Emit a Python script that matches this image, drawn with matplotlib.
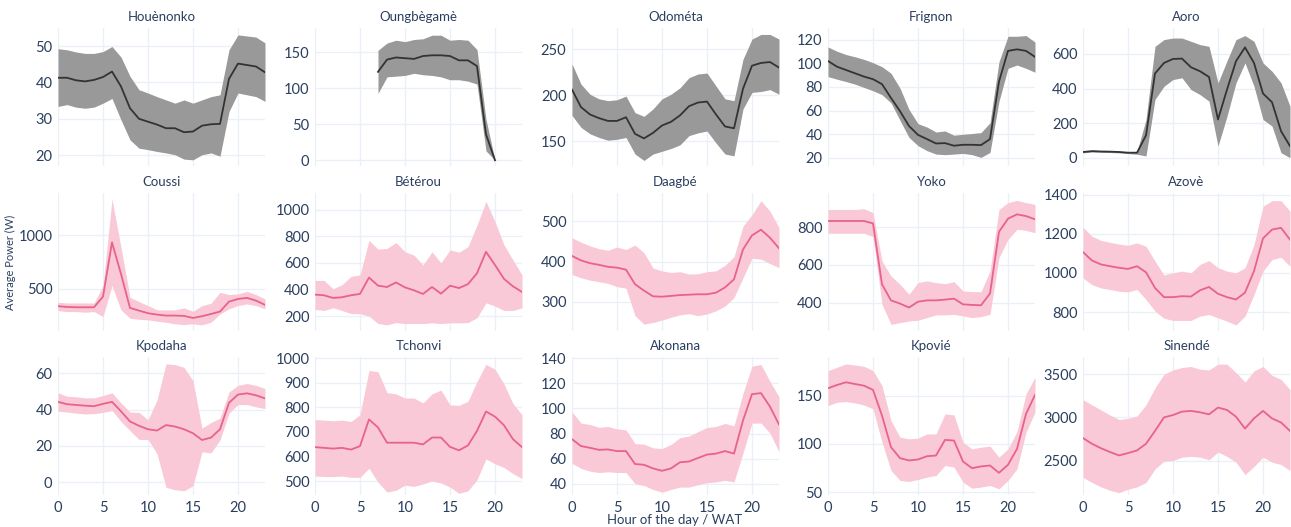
import numpy as np
import matplotlib.pyplot as plt
from matplotlib.ticker import MultipleLocator

nan = np.nan
hours = np.arange(24)

# --- values (mean, upper band, lower band) ---
houenonko_mean = [41.3, 41.3, 40.6, 40.3, 40.7, 41.5, 43.0, 38.9, 32.9, 30.0, 29.2, 28.4,
                  27.4, 27.4, 26.3, 26.5, 28.1, 28.5, 28.6, 41.0, 45.2, 44.8, 44.4, 42.8]
houenonko_hi = [49.3, 49.0, 48.4, 48.0, 48.0, 48.5, 49.9, 47.0, 41.7, 38.0, 37.1, 36.1,
                35.2, 34.3, 35.2, 34.3, 35.2, 36.1, 36.6, 49.0, 53.1, 52.8, 52.5, 50.9]
houenonko_lo = [33.4, 33.9, 33.2, 32.9, 33.2, 34.3, 35.6, 29.7, 24.2, 21.9, 21.5, 21.0,
                20.6, 20.1, 18.9, 18.7, 20.1, 20.6, 19.7, 32.0, 37.1, 36.6, 36.1, 34.8]

oungbegame_mean = [nan] * 7 + [123, 140, 143, 142, 141, 145, 146, 146, 145, 139, 139,
                               131, 36, 0] + [nan] * 3
oungbegame_hi = [nan] * 7 + [153, 163, 167, 165, 168, 169, 174, 174, 167, 168, 167,
                             154, 57, 0] + [nan] * 3
oungbegame_lo = [nan] * 7 + [93, 116, 117, 118, 121, 119, 118, 116, 112, 112, 110,
                             106, 13, 0] + [nan] * 3

odometa_mean = [206, 187, 179, 175, 172, 172, 176, 158, 153, 159, 167, 171,
                178, 188, 192, 193, 179, 166, 164, 207, 232, 235, 236, 230]
odometa_hi = [234, 212, 201, 196, 194, 195, 199, 181, 177, 185, 196, 201,
              208, 219, 223, 224, 210, 196, 194, 239, 261, 266, 266, 261]
odometa_lo = [178, 165, 158, 154, 151, 152, 154, 136, 129, 136, 139, 142,
              146, 156, 159, 161, 148, 136, 134, 185, 203, 204, 206, 201]

frignon_mean = [102, 97.2, 94.4, 91.6, 88.8, 86.6, 82.4, 70.7, 59.5, 46.9, 39.4, 35.8,
                32.1, 32.4, 30.2, 31.0, 31.0, 30.7, 35.8, 84.6, 110.6, 111.9, 110.6, 105.5]
frignon_hi = [113.9, 110.3, 107.5, 105.6, 103.4, 100.6, 97.2, 91.6, 79.0, 60.9, 48.9, 46.0,
              41.8, 42.7, 39.1, 39.9, 40.5, 41.3, 49.7, 101.4, 123.0, 123.0, 123.6, 118.0]
frignon_lo = [88.8, 86.6, 84.6, 82.4, 79.6, 76.8, 73.5, 66.5, 51.7, 37.2, 30.2, 26.0,
              23.1, 22.6, 23.1, 23.7, 22.6, 20.3, 24.5, 67.9, 95.8, 98.6, 95.8, 92.5]

aoro_mean = [33, 38, 36, 35, 33, 29, 29, 129, 487, 548, 571, 573,
             523, 500, 467, 221, 394, 558, 638, 548, 371, 321, 154, 67]
aoro_hi = [38, 43, 41, 40, 38, 34, 34, 221, 644, 683, 692, 692,
           673, 654, 644, 433, 560, 683, 706, 673, 548, 500, 433, 298]
aoro_lo = [28, 33, 31, 30, 28, 24, 20, 10, 337, 413, 452, 462,
           394, 365, 327, 67, 240, 433, 548, 413, 221, 183, 29, 0]

coussi_mean = [340, 333, 330, 330, 330, 429, 932, 639, 324, 299, 275, 262,
               253, 253, 250, 231, 247, 268, 290, 383, 407, 417, 392, 352]
coussi_hi = [377, 370, 370, 370, 370, 531, 1333, 886, 423, 383, 346, 306,
             306, 306, 324, 293, 346, 367, 469, 448, 454, 478, 448, 407]
coussi_lo = [299, 290, 290, 284, 290, 244, 531, 306, 228, 219, 213, 201,
             191, 176, 170, 176, 167, 191, 268, 315, 346, 361, 346, 315]

beterou_mean = [363, 358, 338, 343, 358, 368, 491, 430, 420, 454, 417, 395,
                368, 420, 370, 430, 412, 442, 523, 684, 585, 481, 425, 383]
beterou_hi = [469, 469, 407, 437, 499, 511, 770, 704, 709, 753, 684, 659,
              585, 684, 600, 699, 681, 723, 884, 1062, 909, 736, 622, 511]
beterou_lo = [252, 244, 264, 244, 220, 220, 202, 146, 136, 153, 146, 146,
              146, 151, 146, 151, 151, 153, 190, 301, 277, 244, 244, 264]

daagbe_mean = [414, 403, 396, 392, 387, 385, 380, 344, 328, 314, 313, 315,
               317, 318, 319, 319, 323, 336, 356, 430, 465, 479, 459, 433]
daagbe_hi = [459, 448, 439, 432, 428, 436, 430, 441, 422, 384, 377, 373,
             375, 369, 370, 375, 377, 391, 412, 488, 516, 551, 525, 484]
daagbe_lo = [368, 360, 354, 350, 346, 338, 334, 266, 245, 249, 255, 262,
             268, 271, 266, 270, 278, 290, 311, 360, 408, 406, 395, 385]

yoko_mean = [832, 832, 832, 832, 832, 819, 497, 412, 395, 374, 405, 412,
             412, 416, 421, 391, 388, 386, 448, 775, 844, 867, 858, 841]
yoko_hi = [893, 893, 893, 893, 897, 876, 620, 541, 497, 444, 506, 515,
           506, 500, 511, 462, 458, 458, 567, 893, 929, 941, 929, 920]
yoko_lo = [767, 767, 767, 767, 767, 749, 391, 285, 294, 303, 307, 321,
           335, 335, 338, 330, 321, 326, 338, 638, 735, 788, 782, 770]

azove_mean = [1106, 1063, 1043, 1034, 1026, 1020, 1034, 1003, 923, 876, 876, 881,
              879, 911, 928, 893, 876, 864, 899, 1009, 1176, 1221, 1230, 1170]
azove_hi = [1233, 1187, 1166, 1156, 1147, 1141, 1153, 1136, 1060, 989, 1000, 1009,
            1000, 1043, 1063, 1026, 1009, 1000, 1026, 1145, 1340, 1369, 1369, 1315]
azove_lo = [974, 940, 923, 915, 906, 903, 915, 864, 805, 768, 757, 757,
            757, 779, 787, 770, 753, 734, 779, 889, 1009, 1068, 1080, 1034]

kpodaha_mean = [44.3, 43.0, 42.6, 42.2, 41.9, 43.2, 44.3, 39.1, 33.5, 31.1, 29.2, 28.5,
                31.5, 30.7, 29.2, 27.0, 23.3, 24.6, 29.2, 43.8, 48.3, 49.0, 47.9, 46.2]
kpodaha_hi = [49.3, 47.4, 47.1, 46.5, 46.5, 47.8, 49.3, 43.7, 38.7, 38.5, 34.4, 45.3,
              65.2, 64.8, 63.3, 55.9, 29.8, 32.9, 35.4, 49.7, 53.4, 54.4, 53.4, 51.6]
kpodaha_lo = [39.1, 38.7, 38.1, 37.6, 37.8, 38.5, 39.5, 33.5, 28.5, 23.6, 23.6, 15.8,
              -2.8, -4.1, -4.7, -1.9, 16.8, 16.2, 23.3, 38.1, 42.8, 42.8, 41.5, 40.6]

tchonvi_mean = [638, 635, 632, 635, 628, 642, 751, 718, 656, 656, 656, 656,
                649, 677, 677, 639, 625, 645, 704, 783, 762, 727, 670, 638]
tchonvi_hi = [750, 748, 745, 748, 742, 770, 950, 945, 860, 855, 838, 838,
              818, 855, 870, 810, 808, 825, 905, 975, 955, 895, 815, 770]
tchonvi_lo = [520, 518, 518, 520, 515, 515, 552, 495, 455, 462, 483, 478,
              488, 500, 492, 475, 450, 460, 505, 590, 570, 555, 530, 510]

akonana_mean = [75.5, 70.0, 68.6, 67.0, 67.3, 66.0, 66.0, 55.7, 55.1, 52.2, 50.3, 52.2,
                57.1, 57.7, 60.5, 63.2, 64.0, 66.0, 64.0, 90.4, 111.4, 112.2, 101.4, 87.2]
akonana_hi = [97.3, 88.3, 87.2, 85.0, 85.6, 83.7, 82.9, 72.0, 71.5, 68.6, 68.0, 71.3,
              76.7, 78.0, 81.5, 84.8, 85.6, 88.0, 86.2, 112.0, 133.7, 135.0, 121.5, 109.2]
akonana_lo = [56.3, 52.2, 50.0, 48.9, 49.5, 48.9, 48.9, 40.0, 38.6, 35.4, 33.2, 35.4,
              37.3, 37.3, 39.2, 40.8, 41.4, 42.7, 41.4, 64.5, 88.3, 88.3, 80.2, 65.5]

kpovie_mean = [157.6, 161.0, 163.8, 162.0, 160.3, 155.9, 129.3, 96.6, 85.2, 82.8, 83.8, 87.2,
               87.9, 104.1, 103.4, 81.7, 74.8, 76.6, 77.6, 70.0, 78.3, 94.8, 131.0, 150.7]
kpovie_hi = [175.9, 179.3, 182.8, 181.7, 180.3, 175.9, 160.3, 124.1, 106.9, 105.2, 105.9, 110.3,
             110.3, 131.0, 130.0, 101.7, 94.8, 96.6, 97.6, 86.2, 94.8, 112.8, 151.7, 169.0]
kpovie_lo = [139.7, 143.1, 143.8, 142.4, 140.3, 136.2, 101.7, 72.4, 62.1, 61.0, 63.1, 65.5,
             67.2, 77.6, 75.9, 60.3, 54.1, 55.2, 56.9, 53.4, 62.1, 74.1, 112.0, 132.8]

sinende_mean = [2760, 2694, 2642, 2598, 2559, 2586, 2617, 2694, 2843, 3000, 3027, 3067,
                3075, 3059, 3035, 3114, 3086, 3008, 2870, 2988, 3075, 2988, 2941, 2843]
sinende_hi = [3204, 3145, 3086, 3027, 2976, 2988, 3016, 3145, 3342, 3500, 3550, 3578,
              3590, 3558, 3550, 3617, 3617, 3519, 3409, 3539, 3590, 3488, 3440, 3322]
sinende_lo = [2304, 2245, 2194, 2154, 2127, 2167, 2194, 2245, 2402, 2492, 2500, 2539,
              2547, 2539, 2508, 2598, 2547, 2481, 2336, 2430, 2539, 2481, 2453, 2383]

# site name, data, y-limits, y-tick step
sites = [
    ('Houènonko', houenonko_mean, houenonko_hi, houenonko_lo, (17, 55), 10),
    ('Oungbègamè', oungbegame_mean, oungbegame_hi, oungbegame_lo, (-8, 184), 50),
    ('Odométa', odometa_mean, odometa_hi, odometa_lo, (123, 273), 50),
    ('Frignon', frignon_mean, frignon_hi, frignon_lo, (13, 130), 20),
    ('Aoro', aoro_mean, aoro_hi, aoro_lo, (-48, 750), 200),
    ('Coussi', coussi_mean, coussi_hi, coussi_lo, (110, 1390), 500),
    ('Bétérou', beterou_mean, beterou_hi, beterou_lo, (90, 1125), 200),
    ('Daagbé', daagbe_mean, daagbe_hi, daagbe_lo, (228, 570), 100),
    ('Yoko', yoko_mean, yoko_hi, yoko_lo, (250, 980), 200),
    ('Azovè', azove_mean, azove_hi, azove_lo, (703, 1408), 200),
    ('Kpodaha', kpodaha_mean, kpodaha_hi, kpodaha_lo, (-7, 69), 20),
    ('Tchonvi', tchonvi_mean, tchonvi_hi, tchonvi_lo, (443, 1005), 100),
    ('Akonana', akonana_mean, akonana_hi, akonana_lo, (31, 141), 20),
    ('Kpovié', kpovie_mean, kpovie_hi, kpovie_lo, (47, 190), 50),
    ('Sinendé', sinende_mean, sinende_hi, sinende_lo, (2100, 3700), 500),
]

plt.rcParams['font.family'] = ['Lato', 'DejaVu Sans']
text_color = '#2a3f5f'
grid_color = '#ebf0f8'

fig = plt.figure(figsize=(12.91, 5.27), dpi=100)

col_left = [58, 315, 572, 828, 1083]
row_top = [28, 193, 357]
ax_w, ax_h = 207, 138

for i, (name, mean, hi, lo, ylim, step) in enumerate(sites):
    r, c = divmod(i, 5)
    ax = fig.add_axes([col_left[c] / 1291, 1 - (row_top[r] + ax_h) / 527,
                       ax_w / 1291, ax_h / 527])
    if r == 0:
        band, line = '#999999', '#333333'
    else:
        band, line = '#f9c9d7', '#e8628c'
    ax.fill_between(hours, lo, hi, color=band, lw=0)
    ax.plot(hours, mean, color=line, lw=1.3)
    ax.set_xlim(0, 23)
    ax.set_ylim(*ylim)
    ax.xaxis.set_major_locator(MultipleLocator(5))
    ax.yaxis.set_major_locator(MultipleLocator(step))
    ax.grid(True, color=grid_color, lw=1)
    ax.set_axisbelow(True)
    for s in ax.spines.values():
        s.set_visible(False)
    ax.tick_params(length=0, labelsize=10.5, colors=text_color, pad=4)
    if r < 2:
        ax.tick_params(labelbottom=False)
    ax.set_title(name, fontsize=9.5, color=text_color, pad=5)

fig.text(10 / 1291, 1 - 262 / 527, 'Average Power (W)', rotation=90,
         ha='center', va='center', fontsize=8, color=text_color)
fig.text(675 / 1291, 1 - 520 / 527, 'Hour of the day / WAT',
         ha='center', va='center', fontsize=9.5, color=text_color)

fig.savefig('out.png', dpi=100, facecolor='white')
